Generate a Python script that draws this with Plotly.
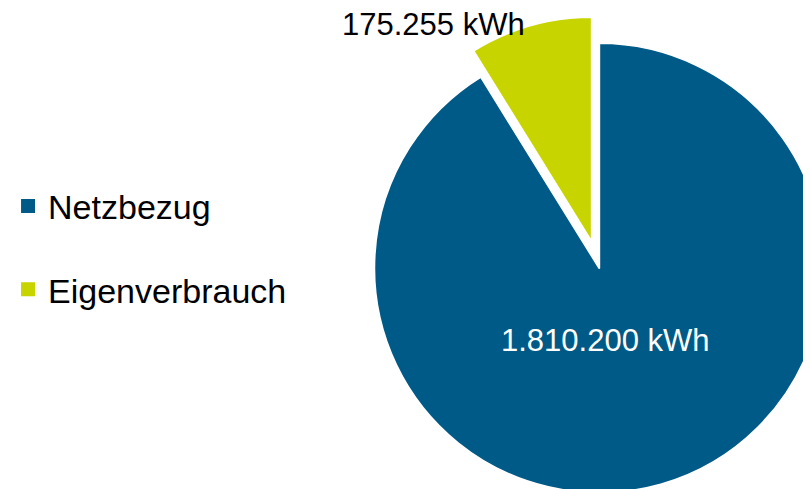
import plotly.graph_objects as go

labels = ["Netzbezug", "Eigenverbrauch"]
values = [1810200, 175255]
value_text = ["1.810.200 kWh", "175.255 kWh"]
colors = ["#005A87", "#C8D400"]

# figure a bit larger than the window so the pie gets cut off on the right / bottom
W, H = 860, 530

fig = go.Figure()

# pie, yellow slice pulled out; value labels go in annotations
fig.add_trace(
    go.Pie(
        labels=labels,
        values=values,
        textinfo="none",
        marker=dict(colors=colors, line=dict(color="white", width=2)),
        pull=[0, 0.12],
        sort=False,
        direction="clockwise",
        rotation=0,
        automargin=False,
        showlegend=False,
        hoverinfo="label+value",
        domain=dict(x=[335 / W, 843 / W], y=[(H - 514) / H, (H - 6) / H]),
    )
)

label_pos = [(595, 332), (422, 17)]
label_color = ["white", "black"]
for i, txt in enumerate(value_text):
    fig.add_annotation(
        text=txt,
        xref="paper",
        yref="paper",
        x=label_pos[i][0] / W,
        y=1 - label_pos[i][1] / H,
        xanchor="center",
        yanchor="middle",
        showarrow=False,
        font=dict(color=label_color[i], size=31),
    )

# legend entries (separate traces so the gap can be set)
for i, name in enumerate(labels):
    fig.add_trace(
        go.Scatter(
            x=[None],
            y=[None],
            mode="markers",
            name=name,
            legendgroup=name,
            marker=dict(symbol="square", size=14, color=colors[i]),
        )
    )

fig.update_layout(
    width=W,
    height=H,
    margin=dict(l=0, r=0, t=0, b=0),
    paper_bgcolor="white",
    plot_bgcolor="white",
    font=dict(family="Liberation Sans, Arial, sans-serif", size=34, color="black"),
    xaxis=dict(visible=False),
    yaxis=dict(visible=False),
    legend=dict(
        x=-7 / W,
        y=1 - 240 / H,
        xanchor="left",
        yanchor="middle",
        tracegroupgap=36,
        font=dict(size=34),
        bgcolor="rgba(0,0,0,0)",
    ),
)

fig.write_html("out.html")
